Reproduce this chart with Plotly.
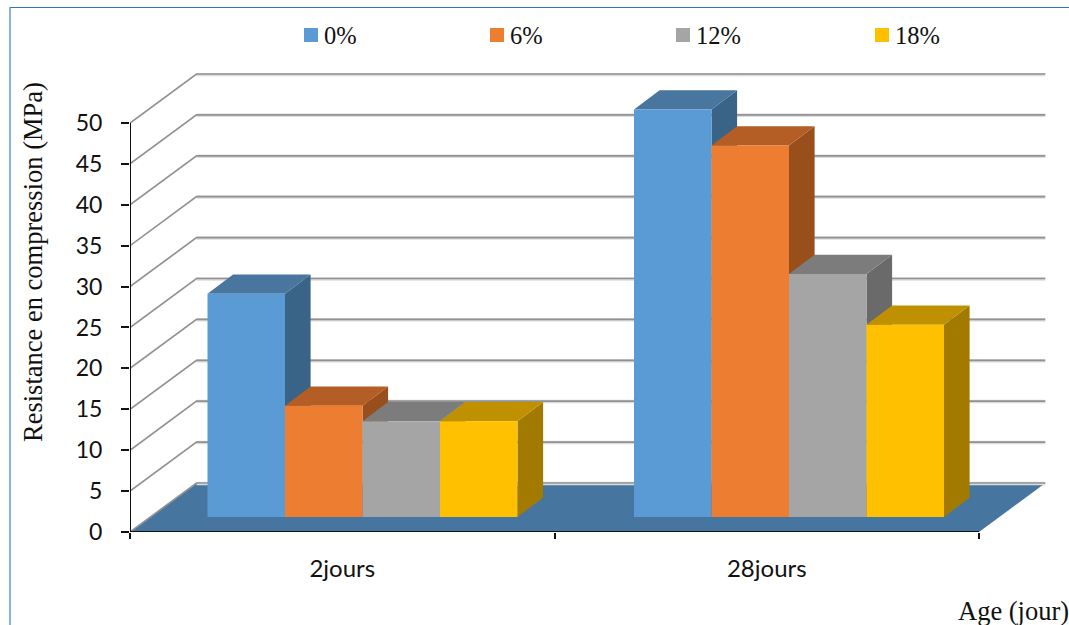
import plotly.graph_objects as go

# Compressive strength by curing age and replacement rate
ages = ["2jours", "28jours"]
series_names = ["0%", "6%", "12%", "18%"]
strength_0 = [27.3, 49.8]
strength_6 = [13.6, 45.4]
strength_12 = [11.7, 29.7]
strength_18 = [11.7, 23.5]
y_ticks = [0, 5, 10, 15, 20, 25, 30, 35, 40, 45, 50]

front_colors = ["#5b9bd5", "#ed7d31", "#a5a5a5", "#ffc000"]
top_colors = ["#48769f", "#b45d24", "#7c7c7c", "#bf9000"]
side_colors = ["#3a6388", "#984f1c", "#6a6a6a", "#a27a00"]
legend_x_px = [304, 490, 676, 875]

WIDTH, HEIGHT = 1069, 625
SERIF = "Liberation Serif"
SANS = "Lato"

# Oblique projection: one category is 424.5 px wide, one MPa is 8.18 px tall
PX_PER_CAT = 424.5
PX_PER_MPA = 8.18
WALL_DX = 66.5 / PX_PER_CAT
WALL_DY = 49 / PX_PER_MPA
BAR_DX = 25.6 / PX_PER_CAT
BAR_DY = 19.3 / PX_PER_MPA
BAR_BASE = 15 / PX_PER_MPA
BAR_W = 77.5 / PX_PER_CAT
GROUP_START = 77.5 / PX_PER_CAT
GROUP_STRIDE = 1.0047

all_values = [strength_0, strength_6, strength_12, strength_18]
x_range = [0, 2 + WALL_DX]
y_range = [0, 50 + WALL_DY + 0.12]


def px(x):
    return x / WIDTH


def py(y):
    return 1 - y / HEIGHT


fig = go.Figure()

# Floor of the box
fig.add_trace(go.Scatter(
    x=[0, 2, 2 + WALL_DX, WALL_DX, 0],
    y=[0, 0, WALL_DY, WALL_DY, 0],
    fill="toself", fillcolor="#46759f", mode="none", hoverinfo="skip", showlegend=False,
))

# Gridlines: a diagonal along the side wall, then a run across the back wall
gx, gy, hx, hy = [], [], [], []
for v in y_ticks:
    gx += [0, WALL_DX, 2 + WALL_DX, None]
    gy += [v, v + WALL_DY, v + WALL_DY, None]
    hx += [WALL_DX, 2 + WALL_DX, None]
    hy += [v + WALL_DY - 0.05, v + WALL_DY - 0.05, None]
fig.add_trace(go.Scatter(x=hx, y=hy, mode="lines", line=dict(color="#dcdcdc", width=3.5),
                         hoverinfo="skip", showlegend=False))
fig.add_trace(go.Scatter(x=gx, y=gy, mode="lines", line=dict(color="#929292", width=1.7),
                         hoverinfo="skip", showlegend=False))

# Top and side faces, painted left to right so nearer blocks overlap correctly
for s, values in enumerate(all_values):
    top_x, top_y, side_x, side_y = [], [], [], []
    for c, v in enumerate(values):
        left = c * GROUP_STRIDE + GROUP_START + s * BAR_W
        right = left + BAR_W
        top = BAR_BASE + v
        top_x += [left, right, right + BAR_DX, left + BAR_DX, left, None]
        top_y += [top, top, top + BAR_DY, top + BAR_DY, top, None]
        side_x += [right, right + BAR_DX, right + BAR_DX, right, right, None]
        side_y += [BAR_BASE, BAR_BASE + BAR_DY, top + BAR_DY, top, BAR_BASE, None]
    fig.add_trace(go.Scatter(x=side_x, y=side_y, fill="toself", fillcolor=side_colors[s],
                             mode="none", hoverinfo="skip", showlegend=False))
    fig.add_trace(go.Scatter(x=top_x, y=top_y, fill="toself", fillcolor=top_colors[s],
                             mode="none", hoverinfo="skip", showlegend=False))

# Axis lines stop at the front plane of the box
fig.add_trace(go.Scatter(x=[0, 2], y=[-0.12, -0.12], mode="lines",
                         line=dict(color="#cfcfcf", width=2), hoverinfo="skip", showlegend=False,
                         cliponaxis=False))
fig.add_trace(go.Scatter(x=[0, 0, None, 0, 2], y=[0, 50, None, 0, 0], mode="lines",
                         line=dict(color="#111111", width=2), hoverinfo="skip",
                         showlegend=False, cliponaxis=False))

# Front faces of the blocks
for s, values in enumerate(all_values):
    fig.add_trace(go.Bar(
        x=[c * GROUP_STRIDE + GROUP_START + (s + 0.5) * BAR_W for c in range(len(ages))],
        y=values,
        base=BAR_BASE,
        width=BAR_W,
        name=series_names[s],
        marker=dict(color=front_colors[s], line=dict(width=0)),
        xaxis="x2",
        showlegend=False,
    ))

# Key along the top of the chart
shapes = []
annotations = []
for name, color, lx in zip(series_names, front_colors, legend_x_px):
    shapes.append(dict(type="rect", xref="paper", yref="paper",
                       x0=px(lx), x1=px(lx + 14), y0=py(42), y1=py(28),
                       fillcolor=color, line=dict(width=0)))
    annotations.append(dict(xref="paper", yref="paper", x=px(lx + 18), y=py(35),
                            xanchor="left", yanchor="middle", text=name, showarrow=False,
                            font=dict(family=SERIF, size=24.5, color="#111111")))

# Thin blue frame on the top and left edges
shapes.append(dict(type="line", xref="paper", yref="paper", x0=px(10), x1=1, y0=py(7.5), y1=py(7.5),
                   line=dict(color="#2e75b6", width=1)))
shapes.append(dict(type="line", xref="paper", yref="paper", x0=px(10), x1=px(10), y0=py(7), y1=0,
                   line=dict(color="#5b9bd5", width=1.5)))

annotations.append(dict(xref="paper", yref="paper", x=px(1071), y=py(611),
                        xanchor="right", yanchor="middle", text="Age (jour)", showarrow=False,
                        font=dict(family=SERIF, size=26.5, color="#111111")))
annotations.append(dict(xref="paper", yref="paper", x=px(33), y=py(262), textangle=-90,
                        xanchor="center", yanchor="middle", showarrow=False,
                        text="Resistance en compression (MPa)",
                        font=dict(family=SERIF, size=26.5, color="#111111")))

fig.update_layout(
    width=WIDTH, height=HEIGHT,
    margin=dict(l=0, r=0, t=0, b=0, autoexpand=False),
    autosize=False,
    paper_bgcolor="white", plot_bgcolor="rgba(0,0,0,0)",
    barmode="overlay",
    shapes=shapes,
    annotations=annotations,
    xaxis=dict(
        domain=[px(130), px(1045.5)], range=x_range, showgrid=False, zeroline=False, showline=False,
        tickvals=[0, 1, 2], showticklabels=False, ticks="outside", ticklen=6, tickwidth=1.5,
        tickcolor="#111111",
    ),
    xaxis2=dict(
        domain=[px(130), px(1045.5)], range=x_range, overlaying="x", anchor="y", side="bottom",
        showgrid=False, zeroline=False, showline=False, ticks="",
        tickvals=[0.5, 1.5], ticktext=ages, ticklabelstandoff=20,
        tickfont=dict(family=SANS, size=24, color="#111111"),
    ),
    yaxis=dict(
        domain=[py(532), py(73)], range=y_range, showgrid=False, zeroline=False, showline=False,
        tickvals=y_ticks, ticks="outside", ticklen=8, tickwidth=1.5, tickcolor="#111111",
        ticklabelstandoff=14,
        tickfont=dict(family=SANS, size=23, color="#111111"),
    ),
    hovermode=False,
)

fig.write_html("out.html")
